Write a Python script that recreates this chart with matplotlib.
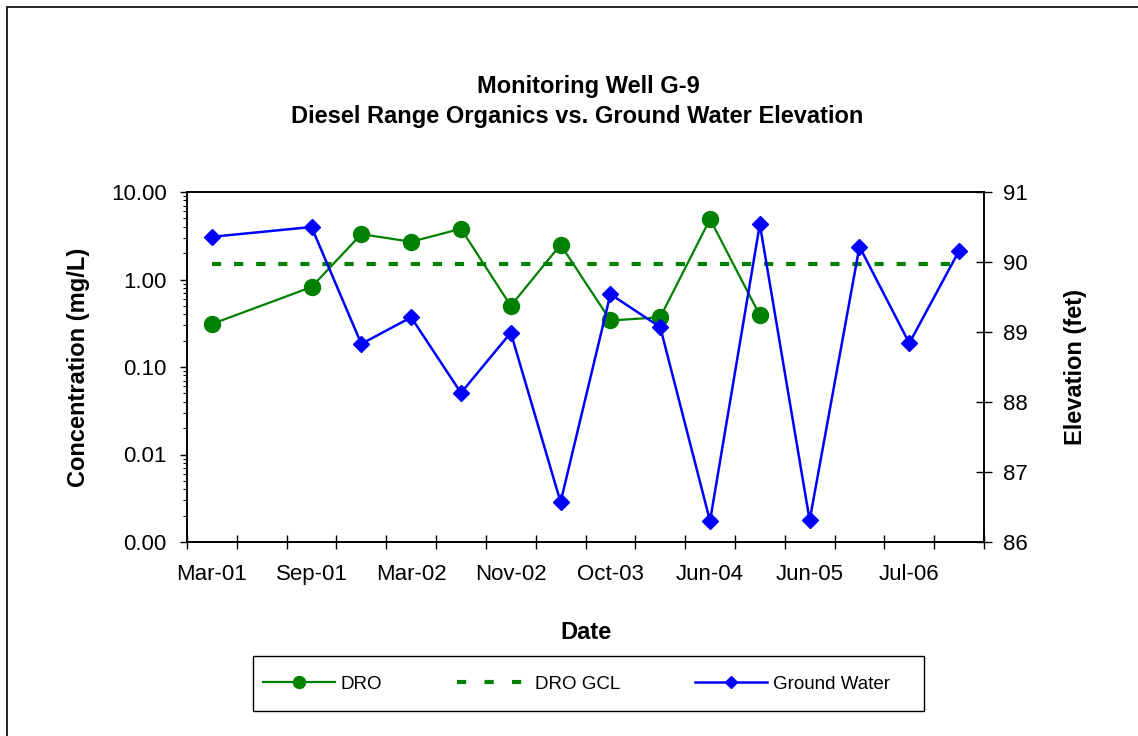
import matplotlib
matplotlib.use('Agg')
import matplotlib.pyplot as plt
import numpy as np
from matplotlib.lines import Line2D
from matplotlib.patches import Rectangle
from matplotlib.ticker import FixedLocator, FuncFormatter, LogLocator, NullFormatter

plt.rcParams['font.family'] = ['Liberation Sans', 'DejaVu Sans']

# sampling events (categorical axis, 16 slots); only every other one is labelled
n_cat = 16
tick_labels = ['Mar-01', 'Sep-01', 'Mar-02', 'Nov-02',
               'Oct-03', 'Jun-04', 'Jun-05', 'Jul-06']

# Diesel range organics, mg/L (nan = not sampled)
dro = [0.31, np.nan, 0.82, 3.3, 2.7, 3.8, 0.50, 2.5,
       0.34, 0.37, 4.9, 0.39, np.nan, np.nan, np.nan, np.nan]
dro_gcl = [1.5] * n_cat
# ground water elevation, ft
gw = [90.36, np.nan, 90.50, 88.83, 89.21, 88.13, 88.99, 86.57,
      89.54, 89.07, 86.30, 90.54, 86.31, 90.22, 88.84, 90.16]

green = '#008000'
blue = '#0000FF'

W, H = 1138, 736
fig = plt.figure(figsize=(W / 100, H / 100), dpi=100)
fig.patch.set_facecolor('white')

# chart-area border (right/bottom edges fall outside the picture)
fig.patches.append(Rectangle((7 / W, -0.05), 1.1, 1 - 7 / H + 0.05,
                             transform=fig.transFigure, fill=False,
                             edgecolor='black', linewidth=1.2))

x0, x1 = 187, 984
y0, y1 = 192, 542
ax = fig.add_axes([x0 / W, 1 - y1 / H, (x1 - x0) / W, (y1 - y0) / H])
ax2 = ax.twinx()

x = np.arange(n_cat)
dro_arr = np.array(dro)
gw_arr = np.array(gw)
m1 = ~np.isnan(dro_arr)
m2 = ~np.isnan(gw_arr)

l1, = ax.plot(x[m1], dro_arr[m1], color=green, lw=1.6, marker='o', ms=11.5,
              mec=green, mfc=green, label='DRO', zorder=3)
ax.plot(x, dro_gcl, color=green, lw=3, dashes=(2.2, 3.1), zorder=2)
l3, = ax2.plot(x[m2], gw_arr[m2], color=blue, lw=1.8, marker='D', ms=8.5,
               mec=blue, mfc=blue, label='Ground Water', zorder=3)
# legend proxy: three dashes then a gap, as in the original key
l2 = Line2D([], [], color=green, lw=3, dashes=(2.2, 4.4), label='DRO GCL')

ax.set_yscale('log')
ax.set_ylim(0.001, 10)
ax.set_xlim(-0.5, n_cat - 0.5)
ax.yaxis.set_major_locator(FixedLocator([0.001, 0.01, 0.1, 1, 10]))
ax.yaxis.set_major_formatter(FuncFormatter(lambda v, p: '%.2f' % v))
ax.yaxis.set_minor_locator(LogLocator(base=10, subs=np.arange(2, 10)))
ax.yaxis.set_minor_formatter(NullFormatter())
ax.tick_params(axis='y', which='major', direction='out', length=5, width=1,
               labelsize=16, pad=9.5)
ax.tick_params(axis='y', which='minor', direction='out', length=3, width=0.8)

# x: tick marks at category boundaries, labels at every other category
ax.set_xticks(np.arange(-0.5, n_cat, 1))
ax.set_xticklabels([])
ax.set_xticks(np.arange(0, n_cat, 2), minor=True)
ax.set_xticklabels(tick_labels, minor=True)
ax.tick_params(axis='x', which='major', direction='inout', length=10, width=1)
ax.tick_params(axis='x', which='minor', length=0, labelsize=16, pad=16)

ax2.set_ylim(86, 91)
ax2.set_yticks([86, 87, 88, 89, 90, 91])
ax2.tick_params(axis='y', direction='inout', length=11.5, width=1,
                labelsize=16, pad=8)

for a in (ax, ax2):
    for s in a.spines.values():
        s.set_color('black')
        s.set_linewidth(1.2)

ax.set_ylabel('Concentration (mg/L)', fontsize=17, fontweight='bold',
              labelpad=15)
ax2.set_ylabel('Elevation (fet)', fontsize=17, fontweight='bold',
               labelpad=26)
ax.set_xlabel('Date', fontsize=17, fontweight='bold', labelpad=26)

fig.text(588 / W, 1 - 86 / H, 'Monitoring Well G-9', ha='center',
         va='center', fontsize=17, fontweight='bold')
fig.text(577 / W, 1 - 116 / H,
         'Diesel Range Organics vs. Ground Water Elevation', ha='center',
         va='center', fontsize=17, fontweight='bold')

# legend box drawn by hand, entries placed inside it
fig.patches.append(Rectangle((253 / W, 1 - 711 / H), (924 - 253) / W,
                             (711 - 656) / H, transform=fig.transFigure,
                             fill=False, edgecolor='black', linewidth=1.0))
fig.legend(handles=[l1, l2, l3], ncol=3, loc='center left',
           bbox_to_anchor=(263 / W, 1 - 684 / H),
           prop={'size': 13.5}, frameon=False, markerscale=0.75,
           handlelength=3.84, handletextpad=0.3,
           columnspacing=4.0, borderpad=0, borderaxespad=0)

fig.savefig('out.png', dpi=100)
